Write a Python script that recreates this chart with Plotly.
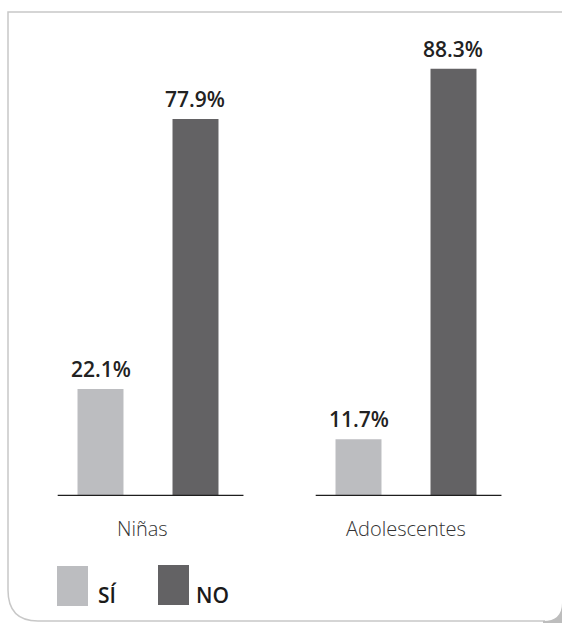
import plotly.graph_objects as go

# Data
categories = ["Niñas", "Adolescentes"]
series_names = ["SÍ", "NO"]
si_values = [22.1, 11.7]
no_values = [77.9, 88.3]
series_colors = ["#bcbdc0", "#636264"]

W, H = 562, 623
ML, MR, MT, MB = 19, 27, 12, 127
PW, PH = W - ML - MR, H - MT - MB
BARGAP, BARGROUPGAP = 0.2636, 0.516


def px(x):
    """pixel x -> paper x"""
    return (x - ML) / PW


def py(y):
    """pixel y -> paper y"""
    return (H - MB - y) / PH


FONT = "Open Sans"

fig = go.Figure()
for name, vals, col in zip(series_names, [si_values, no_values], series_colors):
    fig.add_trace(go.Bar(
        x=categories, y=vals, name=name,
        marker=dict(color=col, line=dict(width=0)),
        showlegend=False, hoverinfo="skip",
    ))

shapes = []
annotations = []

# Value labels above each bar (offset to the bar's slot within its group)
slot_px = (1 - BARGAP) * (PW / len(categories)) / len(series_names)
for k, vals in enumerate([si_values, no_values]):
    shift = (k - (len(series_names) - 1) / 2) * slot_px
    for cat, v in zip(categories, vals):
        annotations.append(dict(x=cat, y=v, xref="x", yref="y",
                                text=f"{v:.1f}%", showarrow=False,
                                yanchor="bottom", yshift=4, xshift=shift,
                                font=dict(family=FONT, size=21, color="#222222",
                                          weight=600)))

# Baseline under each group
for i, cat in enumerate(categories):
    shapes.append(dict(type="line", xref="x", yref="y",
                       x0=i - 0.36 + 0.01, x1=i + 0.36 + 0.01, y0=0, y1=0,
                       line=dict(color="#1e1e1e", width=2.5)))
    annotations.append(dict(x=cat, y=0, xref="x", yref="y", text=cat,
                            showarrow=False, yanchor="top", yshift=-17,
                            xshift=(-6 if i == 0 else 0),
                            font=dict(family=FONT, size=20, color="#333333",
                                      weight=300)))

# Legend swatches and labels
legend_boxes = [(57, 566, 88, 606), (158, 565, 189, 605)]
legend_text_x = [96, 194]
for (x0, y0, x1, y1), tx, name, col in zip(legend_boxes, legend_text_x,
                                           series_names, series_colors):
    shapes.append(dict(type="rect", xref="paper", yref="paper",
                       x0=px(x0), x1=px(x1), y0=py(y1), y1=py(y0),
                       fillcolor=col, line=dict(width=0)))
    annotations.append(dict(x=px(tx), y=py(606), xref="paper", yref="paper",
                            text=name, showarrow=False, xanchor="left",
                            yanchor="bottom", yshift=-5,
                            font=dict(family=FONT, size=21, color="#1a1a1a",
                                      weight=600)))

# Card frame: top and left edges, rounded bottom corners
frame_path = (f"M {px(620)},{py(12)} L {px(8)},{py(12)} L {px(8)},{py(590)} "
              f"Q {px(8)},{py(621)} {px(38)},{py(621)} L {px(545)},{py(621)}")
shapes.append(dict(type="path", xref="paper", yref="paper", path=frame_path,
                   line=dict(color="#c8c8c8", width=1.5), layer="below"))
corner_path = (f"M {px(543)},{py(623)} L {px(543)},{py(621)} "
               f"Q {px(562)},{py(621)} {px(562)},{py(603)} "
               f"L {px(562)},{py(623)} Z")
shapes.append(dict(type="path", xref="paper", yref="paper", path=corner_path,
                   fillcolor="#bdbdbd", line=dict(width=0), layer="below"))

fig.update_layout(
    width=W, height=H,
    margin=dict(l=ML, r=MR, t=MT, b=MB),
    paper_bgcolor="white", plot_bgcolor="white",
    barmode="group", bargap=BARGAP, bargroupgap=BARGROUPGAP,
    xaxis=dict(visible=False, range=[-0.5, 1.5]),
    yaxis=dict(visible=False, range=[0, 100]),
    shapes=shapes, annotations=annotations,
    showlegend=False,
)

fig.write_html("out.html", config=dict(displayModeBar=False))
